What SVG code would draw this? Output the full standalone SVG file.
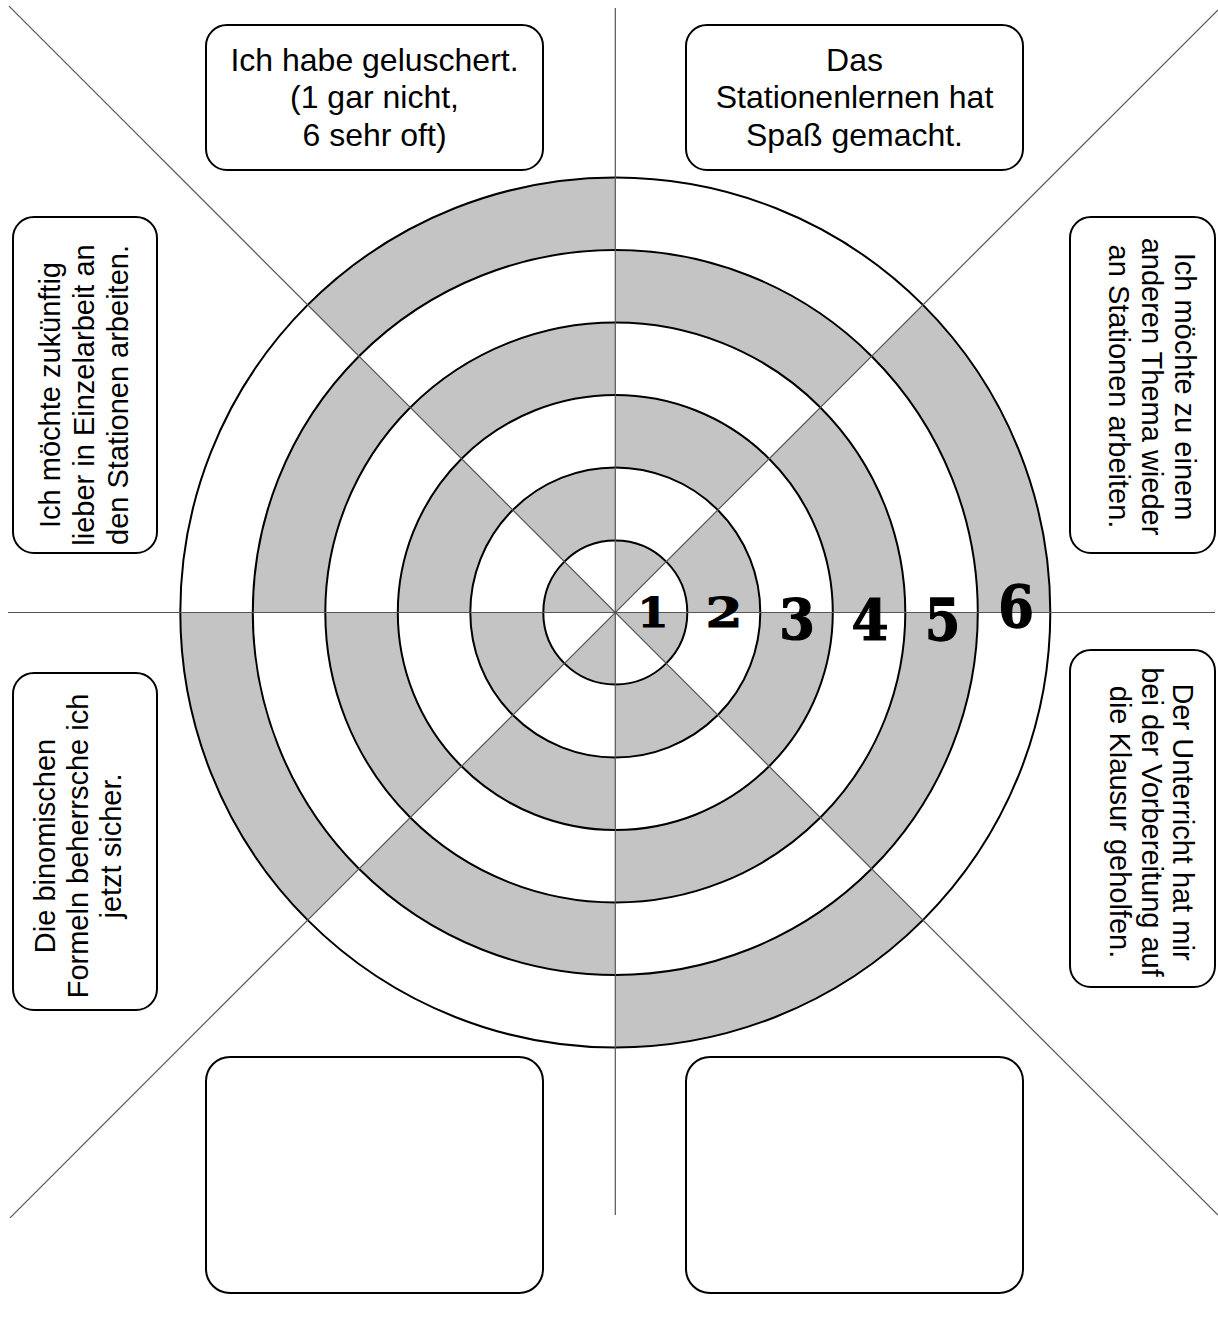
<svg xmlns="http://www.w3.org/2000/svg" xmlns:xlink="http://www.w3.org/1999/xlink" width="1218" height="1321" viewBox="0 0 1218 1321">
<style>
.box{fill:#fff;stroke:#000;stroke-width:2}
.ring{fill:none;stroke:#000;stroke-width:2}
.ax{stroke:#555;stroke-width:1.2;fill:none}
.g{fill:#c4c4c4}
.w{fill:#fff}
.t{font-family:"Liberation Sans",Arial,sans-serif;fill:#000;text-anchor:middle}
.num{font-family:"DejaVu Serif","Liberation Serif",serif;font-weight:bold;font-size:41px;fill:#000;stroke:#000;stroke-width:0.9;text-anchor:middle}
</style>
<defs>
<path id="wedge" d="M0 0 L0 -1 A1 1 0 0 1 0.70711 -0.70711 Z"/>
<g id="pA" class="g"><use xlink:href="#wedge"/><use xlink:href="#wedge" transform="rotate(90)"/><use xlink:href="#wedge" transform="rotate(180)"/><use xlink:href="#wedge" transform="rotate(270)"/></g>
<g id="pB" class="g"><use xlink:href="#wedge" transform="rotate(45)"/><use xlink:href="#wedge" transform="rotate(135)"/><use xlink:href="#wedge" transform="rotate(225)"/><use xlink:href="#wedge" transform="rotate(315)"/></g>
</defs>
<rect width="1218" height="1321" fill="#fff"/>
<g id="target" transform="translate(615.3,612.5)">
<use xlink:href="#pB" transform="scale(435)"/>
<circle class="w" r="362.5"/><use xlink:href="#pA" transform="scale(362.5)"/>
<circle class="w" r="290"/><use xlink:href="#pB" transform="scale(290)"/>
<circle class="w" r="217.5"/><use xlink:href="#pA" transform="scale(217.5)"/>
<circle class="w" r="145"/><use xlink:href="#pB" transform="scale(145)"/>
<circle class="w" r="72"/><use xlink:href="#pA" transform="scale(72)"/>
<circle class="ring" r="435"/><circle class="ring" r="362.5"/><circle class="ring" r="290"/><circle class="ring" r="217.5"/><circle class="ring" r="145"/><circle class="ring" r="72"/>
</g>
<g id="connectors">
<line class="ax" x1="615.3" y1="8" x2="615.3" y2="1215"/>
<line class="ax" x1="8" y1="612.5" x2="1215" y2="612.5"/>
<line class="ax" x1="9" y1="6.2" x2="1218" y2="1215.2"/>
<line class="ax" x1="1218" y1="9.8" x2="10" y2="1217.8"/>
</g>
<g id="numbers">
<text class="num" transform="translate(653,627) scale(1.1,1)">1</text>
<text class="num" transform="translate(724,627) scale(1.3,1)">2</text>
<text class="num" transform="translate(797,639) scale(1.25,1.36)">3</text>
<text class="num" transform="translate(870,640) scale(1.3,1.36)">4</text>
<text class="num" transform="translate(942.5,640) scale(1.25,1.4)">5</text>
<text class="num" transform="translate(1016,627) scale(1.25,1.42)">6</text>
</g>
<g id="box-top-left">
<rect class="box" x="206" y="25" width="337" height="145" rx="21"/>
<text class="t" font-size="32"><tspan x="374.5" y="70.5">Ich habe geluschert.</tspan><tspan x="374.5" y="108">(1 gar nicht,</tspan><tspan x="374.5" y="145.5">6 sehr oft)</tspan></text>
</g>
<g id="box-top-right">
<rect class="box" x="686" y="25" width="337" height="145" rx="21"/>
<text class="t" font-size="32"><tspan x="854.5" y="70.5">Das</tspan><tspan x="854.5" y="108">Stationenlernen hat</tspan><tspan x="854.5" y="145.5">Spaß gemacht.</tspan></text>
</g>
<g id="box-left-upper">
<rect class="box" x="13" y="217" width="144" height="336" rx="21"/>
<text class="t" font-size="29" transform="translate(0,395) rotate(-90)"><tspan x="0" y="60">Ich möchte zukünftig</tspan><tspan x="0" y="94">lieber in Einzelarbeit an</tspan><tspan x="0" y="128">den Stationen arbeiten.</tspan></text>
</g>
<g id="box-right-upper">
<rect class="box" x="1070" y="217" width="145" height="336" rx="21"/>
<text class="t" font-size="29" transform="translate(1175,386.5) rotate(90)"><tspan x="0" y="0">Ich möchte zu einem</tspan><tspan x="0" y="33">anderen Thema wieder</tspan><tspan x="0" y="66">an Stationen arbeiten.</tspan></text>
</g>
<g id="box-left-lower">
<rect class="box" x="13" y="673" width="144" height="337" rx="21"/>
<text class="t" font-size="29" transform="translate(0,846) rotate(-90)"><tspan x="0" y="55">Die binomischen</tspan><tspan x="0" y="88">Formeln beherrsche ich</tspan><tspan x="0" y="121">jetzt sicher.</tspan></text>
</g>
<g id="box-right-lower">
<rect class="box" x="1070" y="650" width="145" height="337" rx="21"/>
<text class="t" font-size="29" transform="translate(1173,822) rotate(90)"><tspan x="0" y="0">Der Unterricht hat mir</tspan><tspan x="0" y="31.5">bei der Vorbereitung auf</tspan><tspan x="0" y="63">die Klausur geholfen.</tspan></text>
</g>
<g id="box-bottom-left">
<rect class="box" x="206" y="1057" width="337" height="236" rx="24"/>
</g>
<g id="box-bottom-right">
<rect class="box" x="686" y="1057" width="337" height="236" rx="24"/>
</g>
</svg>
